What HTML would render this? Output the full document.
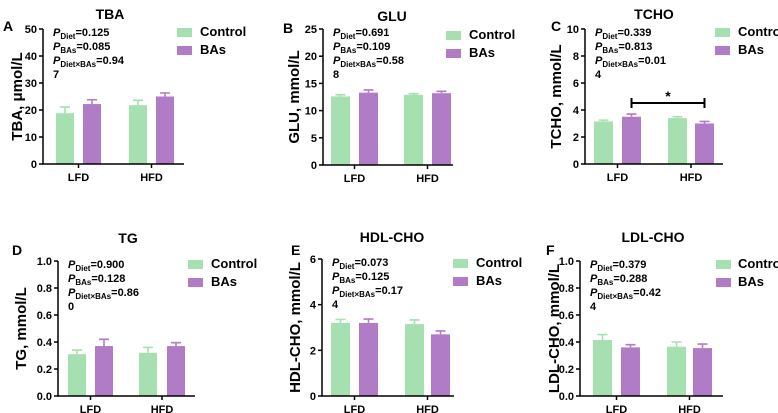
<!DOCTYPE html>
<html><head><meta charset="utf-8">
<style>
body{margin:0;background:#fff;}
svg{display:block;font-family:"Liberation Sans",Arial,sans-serif;font-weight:bold;}
</style></head>
<body>
<svg id="fig" width="778" height="413" viewBox="0 0 778 413"></svg>
<script>
// ---- data (means and SEM: [LFD-Control, LFD-BAs, HFD-Control, HFD-BAs]) ----
const groups = ["LFD","HFD"];
const seriesNames = ["Control","BAs"];
const tbaMeans = [18.8, 22.2, 21.8, 25.0];
const tbaErr   = [2.3, 1.6, 1.8, 1.3];
const gluMeans = [12.6, 13.3, 12.9, 13.2];
const gluErr   = [0.3, 0.5, 0.2, 0.35];
const tchoMeans = [3.15, 3.5, 3.4, 3.0];
const tchoErr   = [0.1, 0.2, 0.1, 0.15];
const tgMeans = [0.31, 0.37, 0.32, 0.37];
const tgErr   = [0.03, 0.05, 0.04, 0.025];
const hdlMeans = [3.2, 3.2, 3.15, 2.7];
const hdlErr   = [0.15, 0.17, 0.18, 0.15];
const ldlMeans = [0.415, 0.36, 0.365, 0.355];
const ldlErr   = [0.04, 0.02, 0.035, 0.03];
const tbaTicks = ["0","10","20","30","40","50"];
const gluTicks = ["0","5","10","15","20","25"];
const tchoTicks = ["0","2","4","6","8","10"];
const tgTicks = ["0.0","0.2","0.4","0.6","0.8","1.0"];
const hdlTicks = ["0","2","4","6"];
const ldlTicks = ["0.0","0.2","0.4","0.6","0.8","1.0"];
const pDiet = ["0.125","0.691","0.339","0.900","0.073","0.379"];
const pBAs  = ["0.085","0.109","0.813","0.128","0.125","0.288"];
const pInt  = ["0.94","0.58","0.01","0.86","0.17","0.42"];
const pIntTail = ["7","8","4","0","4","4"];

const colors = ["#a6dfb0","#b07cc6"];
const NS = "http://www.w3.org/2000/svg";
const svg = document.getElementById("fig");
function mk(tag, attrs, parent){
  const e = document.createElementNS(NS, tag);
  for (const k in attrs) e.setAttribute(k, attrs[k]);
  (parent||svg).appendChild(e);
  return e;
}

const panels = [
 {id:"tba", letter:"A", title:"TBA", ylab:"TBA, μmol/L", means:tbaMeans, err:tbaErr, ticks:tbaTicks,
  ax:43, top:29, bot:164, xend:184, bx:[56,83,129,156], bw:18, tx:110, ty:19, lx:3, ly:31, leg:[177,200,32], ylx:18},
 {id:"glu", letter:"B", title:"GLU", ylab:"GLU, mmol/L", means:gluMeans, err:gluErr, ticks:gluTicks,
  ax:323, top:29, bot:165, xend:453, bx:[331,359,404,432], bw:19, tx:392, ty:21, lx:283, ly:33, leg:[446,469,35], ylx:295},
 {id:"tcho", letter:"C", title:"TCHO", ylab:"TCHO, mmol/L", means:tchoMeans, err:tchoErr, ticks:tchoTicks,
  ax:585, top:29, bot:164, xend:723, bx:[594,622,668,695], bw:19, tx:654, ty:19, lx:551, ly:31, leg:[715,738,32], ylx:557, sig:true},
 {id:"tg", letter:"D", title:"TG", ylab:"TG, mmol/L", means:tgMeans, err:tgErr, ticks:tgTicks,
  ax:58, top:261, bot:396, xend:195, bx:[68,95,139,167], bw:18, tx:128, ty:243, lx:12, ly:255, leg:[188,211,264], ylx:22},
 {id:"hdl", letter:"E", title:"HDL-CHO", ylab:"HDL-CHO, mmol/L", means:hdlMeans, err:hdlErr, ticks:hdlTicks,
  ax:322, top:259, bot:396, xend:454, bx:[331,359,405,431], bw:19, tx:392, ty:242, lx:291, ly:255, leg:[453,476,263], ylx:296},
 {id:"ldl", letter:"F", title:"LDL-CHO", ylab:"LDL-CHO, mmol/L", means:ldlMeans, err:ldlErr, ticks:ldlTicks,
  ax:580, top:261, bot:396, xend:723, bx:[593,621,667,693], bw:19, tx:653, ty:242, lx:546, ly:255, leg:[716,738,264], ylx:555}
];

panels.forEach((p, pi) => {
  const g = mk("g", {});
  
  
  const ymax = parseFloat(p.ticks[p.ticks.length-1]);
  const y = v => p.bot - v / ymax * (p.bot - p.top);
  const t = mk("text", {x:p.tx, y:p.ty, "text-anchor":"middle", "font-size":14}, g);
  t.textContent = p.title;
  
  
  const l = mk("text", {x:p.lx, y:p.ly, "font-size":14}, g);
  l.textContent = p.letter;
  
  
  const cy = (p.top + p.bot)/2;
  const yl = mk("text", {x:p.ylx, y:cy, "text-anchor":"middle", "font-size":15, transform:`rotate(-90 ${p.ylx} ${cy})`, "dominant-baseline":"middle"}, g);
  yl.textContent = p.ylab;
  
  
  p.means.forEach((m, i) => {
    const c = colors[i % 2];
    const x = p.bx[i];
    const r = mk("rect", {x:x, y:y(m), width:p.bw, height:p.bot - y(m), fill:c}, g);
    
    
    const cx = x + p.bw/2, ye = y(m + p.err[i]);
    const e = mk("path", {d:`M${cx} ${y(m)}V${ye}M${cx-5} ${ye}H${cx+5}`, stroke:c, "stroke-width":1.6, fill:"none"}, g);
    
    
  });
  const axis = mk("path", {d:`M${p.ax} ${p.top}V${p.bot}H${p.xend}`, stroke:"#000", "stroke-width":1.5, fill:"none"}, g);
  
  
  p.ticks.forEach(tk => {
    const yy = y(parseFloat(tk));
    mk("line", {x1:p.ax-4, x2:p.ax, y1:yy, y2:yy, stroke:"#000", "stroke-width":1.5}, g);
    const tl = mk("text", {x:p.ax-6, y:yy+4, "text-anchor":"end", "font-size":11}, g);
    tl.textContent = tk;
    
    
  });
  groups.forEach((gr, gi) => {
    const cx = (p.bx[gi*2] + p.bx[gi*2+1] + p.bw)/2;
    mk("line", {x1:cx, x2:cx, y1:p.bot, y2:p.bot+4, stroke:"#000", "stroke-width":1.5}, g);
    const xl = mk("text", {x:cx, y:p.bot+17, "text-anchor":"middle", "font-size":11}, g);
    xl.textContent = gr;
    
    
  });
  const px = p.ax + 10, py = p.top + 7;
  const lines = [["Diet", pDiet[pi]], ["BAs", pBAs[pi]], ["Diet×BAs", pInt[pi]]];
  lines.forEach((ln, k) => {
    const tt = mk("text", {x:px, y:py + k*14, "font-size":11}, g);
    
    
    const a = mk("tspan", {"font-style":"italic"}, tt); a.textContent = "P";
    const b = mk("tspan", {"font-size":8, dy:3}, tt); b.textContent = ln[0];
    const c = mk("tspan", {dy:-3}, tt); c.textContent = "=" + ln[1];
  });
  const tail = mk("text", {x:px, y:py + 42, "font-size":11}, g);
  tail.textContent = pIntTail[pi];
  seriesNames.forEach((s, k) => {
    const ly = p.leg[2] + k*18;
    const sw = mk("rect", {x:p.leg[0], y:ly-4, width:15, height:9, fill:colors[k]}, g);
    
    
    const lt = mk("text", {x:p.leg[1], y:ly+4, "font-size":13}, g);
    lt.textContent = s;
    
    
  });
  if (p.sig) {
    const x1 = p.bx[1] + p.bw/2, x2 = p.bx[3] + p.bw/2, sy = 103;
    const s = mk("path", {d:`M${x1} ${sy-5}V${sy+5}M${x1} ${sy}H${x2}M${x2} ${sy-5}V${sy+5}`, stroke:"#000", "stroke-width":2, fill:"none"}, g);
    
    
    const st = mk("text", {x:(x1+x2)/2, y:sy-2, "text-anchor":"middle", "font-size":14}, g);
    st.textContent = "*";
    
    
  }
});
</script>
</body></html>
